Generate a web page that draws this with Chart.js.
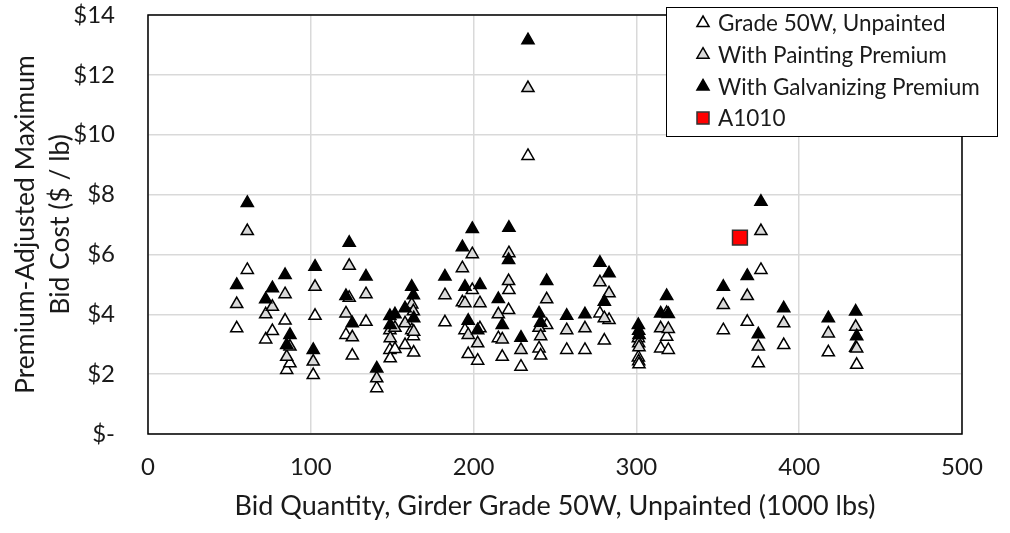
<!DOCTYPE html>
<html>
<head>
<meta charset="utf-8">
<title>Premium-Adjusted Maximum Bid Cost</title>
<script src="https://cdn.jsdelivr.net/npm/chart.js@4.4.1/dist/chart.umd.min.js"></script>
<style>
  html, body { margin: 0; padding: 0; background: #fff; }
  #wrap { position: relative; width: 1010px; height: 533px; }
</style>
</head>
<body>
<div id="wrap"><canvas id="bids" width="1010" height="533"></canvas></div>
<script>
// Bid quantity, girder grade 50W unpainted (1000 lbs) - one entry per bid
const bidQty = [
  54.5, 61.0, 72.3, 76.4, 84.2, 85.2, 87.2, 101.5, 102.6, 121.6,
  123.6, 125.5, 133.9, 140.5, 148.6, 148.8, 151.7, 157.9, 162.0, 163.0,
  163.2, 182.4, 193.1, 194.7, 196.7, 199.2, 202.5, 203.9, 215.2, 217.6,
  221.7, 221.5, 229.1, 233.4, 240.2, 241.2, 244.9, 257.2, 268.4, 277.6,
  280.3, 283.2, 301.2, 301.4, 301.6, 314.9, 318.6, 319.6, 353.4, 368.1,
  374.9, 376.5, 390.5, 417.9, 434.7, 435.3
];

// Premium-adjusted max bid cost ($/lb)
const unpainted = [
  3.53, 5.48, 3.16, 3.44, 3.79, 2.14, 2.36, 1.97, 3.95, 3.31,
  4.55, 2.62, 3.75, 1.53, 2.81, 2.53, 2.84, 2.97, 3.47, 3.27,
  2.72, 3.73, 4.40, 3.47, 2.67, 4.81, 2.45, 3.53, 3.20, 2.58,
  4.81, 4.14, 2.25, 9.29, 2.86, 2.62, 3.64, 2.81, 2.81, 4.03,
  3.12, 3.81, 2.56, 2.43, 2.33, 2.86, 3.25, 2.81, 3.47, 3.75,
  2.36, 5.48, 2.97, 2.73, 2.88, 2.31
];

const painting = [
  4.34, 6.78, 4.00, 4.25, 4.67, 2.58, 2.92, 2.42, 4.92, 4.03,
  5.62, 3.23, 4.67, 1.86, 3.47, 3.20, 3.55, 3.70, 4.33, 4.10,
  3.42, 4.64, 5.54, 4.37, 3.31, 6.01, 3.03, 4.37, 4.00, 3.16,
  6.04, 5.11, 2.81, 11.56, 3.55, 3.27, 4.50, 3.47, 3.53, 5.07,
  3.87, 4.70, 3.20, 3.03, 2.90, 3.53, 4.04, 3.51, 4.31, 4.61,
  2.92, 6.78, 3.70, 3.36, 3.58, 2.86
];

const galvanizing = [
  4.98, 7.72, 4.50, 4.87, 5.31, 2.97, 3.31, 2.81, 5.59, 4.61,
  6.39, 3.70, 5.26, 2.19, 3.94, 3.64, 4.00, 4.20, 4.92, 4.64,
  3.87, 5.26, 6.24, 4.92, 3.78, 6.85, 3.47, 4.98, 4.51, 3.64,
  6.89, 5.81, 3.22, 13.16, 4.03, 3.72, 5.11, 3.95, 4.00, 5.72,
  4.42, 5.37, 3.64, 3.45, 3.31, 4.03, 4.61, 4.01, 4.92, 5.28,
  3.33, 7.76, 4.20, 3.87, 4.09, 3.27
];

const a1010Qty = [363.6];
const a1010Cost = [6.56];

const seriesNames = ['Grade 50W, Unpainted', 'With Painting Premium', 'With Galvanizing Premium', 'A1010'];
const xTicks = [0, 100, 200, 300, 400, 500];
const yTicks = [0, 2, 4, 6, 8, 10, 12, 14];

const toPoints = (xs, ys) => xs.map((x, i) => ({ x: x, y: ys[i] }));
const textColor = '#1a1a1a';
const fontFamily = 'Lato, "Open Sans", sans-serif';

// plot area frame, drawn under the markers
const plotFrame = {
  id: 'plotFrame',
  beforeDatasetsDraw(chart) {
    const { ctx, chartArea: a } = chart;
    ctx.save();
    ctx.strokeStyle = '#000';
    ctx.lineWidth = 1.5;
    ctx.strokeRect(a.left, a.top, a.right - a.left, a.bottom - a.top);
    ctx.restore();
  }
};

// boxed legend sitting over the top right corner of the plot
const boxLegend = {
  id: 'boxLegend',
  afterDraw(chart) {
    const { ctx } = chart;
    const x0 = 666, y0 = 7, w = 331, h = 129;
    ctx.save();
    ctx.fillStyle = '#fff';
    ctx.fillRect(x0, y0, w, h);
    ctx.strokeStyle = '#000';
    ctx.lineWidth = 1;
    ctx.strokeRect(x0 + 0.5, y0 + 0.5, w, h);
    ctx.font = '22.5px ' + fontFamily;
    ctx.textBaseline = 'middle';
    chart.data.datasets.forEach((ds, i) => {
      const cy = y0 + 16 + i * 31.7;
      ctx.fillStyle = ds.backgroundColor;
      ctx.strokeStyle = ds.borderColor;
      ctx.lineWidth = ds.borderWidth;
      Chart.helpers.drawPoint(ctx, {
        pointStyle: ds.pointStyle,
        radius: ds.pointStyle === 'rect' ? 8.5 : 7,
        borderWidth: ds.borderWidth,
        rotation: 0
      }, 703, cy);
      ctx.fillStyle = textColor;
      ctx.fillText(ds.label, 718, cy + 1);
    });
    ctx.restore();
  }
};

new Chart(document.getElementById('bids'), {
  type: 'scatter',
  data: {
    datasets: [
      {
        label: seriesNames[0],
        data: toPoints(bidQty, unpainted),
        pointStyle: 'triangle',
        pointRadius: 7,
        backgroundColor: '#ffffff',
        borderColor: '#000000',
        borderWidth: 1.5,
        order: 4
      },
      {
        label: seriesNames[1],
        data: toPoints(bidQty, painting),
        pointStyle: 'triangle',
        pointRadius: 7,
        backgroundColor: '#d9d9d9',
        borderColor: '#000000',
        borderWidth: 1.5,
        order: 3
      },
      {
        label: seriesNames[2],
        data: toPoints(bidQty, galvanizing),
        pointStyle: 'triangle',
        pointRadius: 7,
        backgroundColor: '#000000',
        borderColor: '#000000',
        borderWidth: 1.5,
        order: 2
      },
      {
        label: seriesNames[3],
        data: toPoints(a1010Qty, a1010Cost),
        pointStyle: 'rect',
        pointRadius: 10.5,
        backgroundColor: '#ff0000',
        borderColor: '#333333',
        borderWidth: 1.5,
        order: 1
      }
    ]
  },
  options: {
    responsive: false,
    animation: false,
    devicePixelRatio: 1,
    layout: { padding: { left: 0, right: 48, top: 15, bottom: 0 } },
    plugins: {
      legend: { display: false },
      tooltip: { enabled: false }
    },
    scales: {
      x: {
        type: 'linear',
        min: xTicks[0],
        max: xTicks[xTicks.length - 1],
        afterFit(scale) {
          scale.height = 99;
          scale.paddingLeft = 0;
          scale.paddingRight = 0;
        },
        afterBuildTicks(scale) { scale.ticks = xTicks.map(v => ({ value: v })); },
        border: { display: false },
        grid: { color: '#d9d9d9', lineWidth: 1.5, drawTicks: false },
        ticks: { color: textColor, padding: 19, font: { family: fontFamily, size: 24 } },
        title: {
          display: true,
          text: 'Bid Quantity, Girder Grade 50W, Unpainted (1000 lbs)',
          color: textColor,
          font: { family: fontFamily, size: 27 },
          padding: { top: 0, bottom: 11 }
        }
      },
      y: {
        type: 'linear',
        min: yTicks[0],
        max: yTicks[yTicks.length - 1],
        afterFit(scale) {
          scale.width = 148;
          scale.paddingTop = 0;
          scale.paddingBottom = 0;
        },
        afterBuildTicks(scale) { scale.ticks = yTicks.map(v => ({ value: v })); },
        border: { display: false },
        grid: { color: '#d9d9d9', lineWidth: 1.5, drawTicks: false },
        ticks: {
          color: textColor,
          padding: 33,
          font: { family: fontFamily, size: 24 },
          callback: v => (v === 0 ? '$-' : '$' + v)
        },
        title: {
          display: true,
          text: ['Premium-Adjusted Maximum', 'Bid Cost ($ / lb)'],
          color: textColor,
          font: { family: fontFamily, size: 26.5, lineHeight: 1.32 },
          padding: { top: 7.5, bottom: 0 }
        }
      }
    }
  },
  plugins: [plotFrame, boxLegend]
});
</script>
</body>
</html>
